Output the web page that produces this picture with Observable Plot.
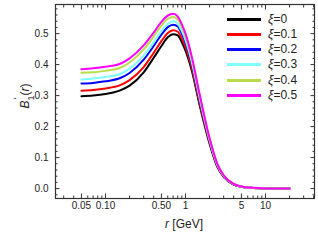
<!DOCTYPE html>
<html><head><meta charset="utf-8">
<script src="https://cdn.jsdelivr.net/npm/d3@7"></script>
<script src="https://cdn.jsdelivr.net/npm/@observablehq/plot@0.6"></script>
<style>
body{margin:0;background:#fff;}
#wrap{position:relative;width:318px;height:241px;font-family:"Liberation Sans",Arial,sans-serif;color:#222;}
#wrap svg{position:absolute;left:0;top:0;}
.lab{position:absolute;white-space:nowrap;font-size:12px;line-height:1;}
.leg{position:absolute;left:227px;width:85px;height:15px;}
.leg .sw{position:absolute;left:0;top:6px;width:34px;height:2.5px;}
.leg .tx{position:absolute;left:41px;top:0;font-size:12px;line-height:15px;}
</style></head><body><div id="wrap"></div>
<script>
const r   = [0.05,0.07,0.1,0.15,0.2,0.3,0.4,0.5,0.6,0.7,0.8,0.9,1.0,1.2,1.5,2,2.5,3,4,5,7,10,15,20];
const xi0 = [0.298,0.300,0.305,0.316,0.332,0.375,0.422,0.460,0.488,0.498,0.494,0.472,0.445,0.380,0.270,0.145,0.070,0.038,0.013,0.006,0.002,0.0005,0.0001,0.0];
const xi1 = [0.316,0.318,0.323,0.333,0.350,0.392,0.438,0.476,0.502,0.511,0.506,0.484,0.456,0.389,0.277,0.149,0.072,0.039,0.013,0.006,0.002,0.0005,0.0001,0.0];
const xi2 = [0.339,0.341,0.346,0.356,0.373,0.416,0.460,0.497,0.521,0.529,0.523,0.499,0.471,0.401,0.286,0.153,0.075,0.040,0.014,0.006,0.002,0.0005,0.0001,0.0];
const xi3 = [0.352,0.355,0.360,0.369,0.387,0.429,0.472,0.508,0.531,0.540,0.532,0.508,0.479,0.408,0.292,0.156,0.076,0.041,0.014,0.006,0.002,0.0005,0.0001,0.0];
const xi4 = [0.374,0.375,0.380,0.389,0.407,0.449,0.491,0.526,0.548,0.554,0.546,0.521,0.492,0.418,0.300,0.160,0.079,0.042,0.015,0.007,0.002,0.0005,0.0001,0.0];
const xi5 = [0.385,0.388,0.393,0.402,0.420,0.462,0.503,0.538,0.558,0.564,0.555,0.530,0.500,0.425,0.305,0.163,0.080,0.043,0.015,0.007,0.0025,0.0006,0.0001,0.0];
const labels = ["ξ=0","ξ=0.1","ξ=0.2","ξ=0.3","ξ=0.4","ξ=0.5"];
const colors = ["#000000","#ff0000","#0000ff","#80ffff","#b8dc4a","#ff00ff"];
const xMajor = [0.05,0.1,0.5,1,5,10];
const xMajorText = ["0.05","0.10","0.50","1","5","10"];
const xMinor = [0.03,0.04,0.06,0.07,0.08,0.09,0.2,0.3,0.4,0.6,0.7,0.8,0.9,2,3,4,6,7,8,9,20,30,40];
const yMajor = [0,0.1,0.2,0.3,0.4,0.5];
const yMinor = [-0.02,0.02,0.04,0.06,0.08,0.12,0.14,0.16,0.18,0.22,0.24,0.26,0.28,0.32,0.34,0.36,0.38,0.42,0.44,0.46,0.48,0.52,0.54,0.56,0.58];

const series = [xi0,xi1,xi2,xi3,xi4,xi5];
const data = series.flatMap((vals,i)=> r.map((rv,j)=>({r:rv, v:vals[j], s:labels[i]})));
const xTicks = xMajor.map((v,i)=>({v, t:xMajorText[i]}));
const ax = "#333";

const chart = Plot.plot({
  width:318, height:241,
  marginLeft:55, marginRight:4, marginTop:4, marginBottom:43,
  style:{fontFamily:"'Liberation Sans',Arial,sans-serif", fontSize:"10px", color:"#222", background:"transparent"},
  x:{type:"log", domain:[0.0237,41]},
  y:{domain:[-0.032,0.594]},
  color:{domain:labels, range:colors},
  marks:[
    Plot.line(data,{x:"r", y:"v", z:"s", stroke:"s", strokeWidth:2, curve:"monotone-x"}),
    Plot.text(xTicks,{x:"v", text:"t", frameAnchor:"bottom", lineAnchor:"top", dy:3, fill:"#222"}),
    Plot.axisX(xMajor,{anchor:"bottom", tickSize:-4.5, fill:"none", stroke:ax, label:null}),
    Plot.axisX(xMinor,{anchor:"bottom", tickSize:-2.5, fill:"none", stroke:ax, label:null}),
    Plot.axisX(xMajor,{anchor:"top", tickSize:-4.5, fill:"none", stroke:ax, label:null}),
    Plot.axisX(xMinor,{anchor:"top", tickSize:-2.5, fill:"none", stroke:ax, label:null}),
    Plot.axisY(yMajor,{anchor:"left", tickSize:0, tickPadding:7, tickFormat:d3.format(".1f"), label:null}),
    Plot.axisY(yMajor,{anchor:"left", tickSize:-4.5, fill:"none", stroke:ax, label:null}),
    Plot.axisY(yMinor,{anchor:"left", tickSize:-2.5, fill:"none", stroke:ax, label:null}),
    Plot.axisY(yMajor,{anchor:"right", tickSize:-4.5, fill:"none", stroke:ax, label:null}),
    Plot.axisY(yMinor,{anchor:"right", tickSize:-2.5, fill:"none", stroke:ax, label:null}),
    Plot.frame({stroke:ax, strokeWidth:1.2})
  ]
});
const wrap = document.getElementById("wrap");
wrap.appendChild(chart);

const yl = document.createElement("div");
yl.className = "lab";
yl.style.cssText = "left:27px;top:96px;transform:translate(-50%,-50%) rotate(-90deg);font-size:12px;";
yl.innerHTML = "<i>B</i><span style='position:relative;display:inline-block;'><sup style='font-size:9px;position:absolute;top:-6px;left:1px'>'</sup><sub style='font-size:9px;position:relative;top:2px'>1</sub></span>(<i>r</i>)";
wrap.appendChild(yl);

const xl = document.createElement("div");
xl.className = "lab";
xl.style.cssText = "left:184px;top:224px;transform:translate(-50%,-50%);font-size:12px;";
xl.innerHTML = "<i>r</i> [GeV]";
wrap.appendChild(xl);

labels.forEach((lab,i)=>{
  const row = document.createElement("div");
  row.className = "leg";
  row.style.top = Math.round(11.5 + i*15.3) + "px";
  row.innerHTML = `<div class="sw" style="background:${colors[i]}"></div><div class="tx"><i>ξ</i>=${lab.slice(2)}</div>`;
  wrap.appendChild(row);
});
</script>
</body></html>
